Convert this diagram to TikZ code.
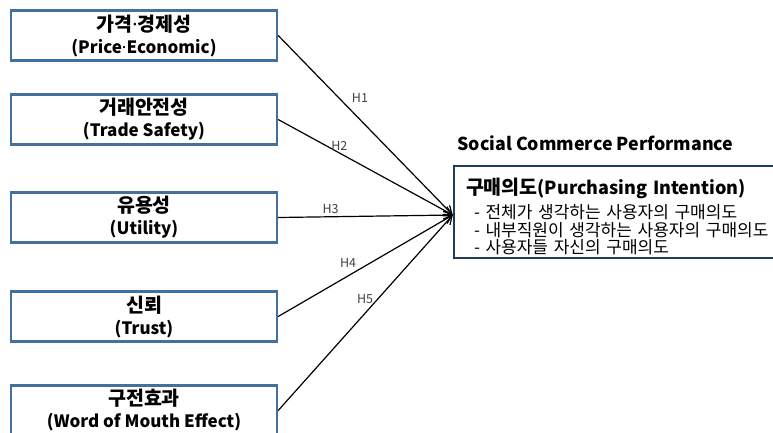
\documentclass[tikz,border=0pt]{standalone}
\usepackage{fontspec}
\setmainfont{Noto Sans CJK KR}
\newfontfamily\latinfont{Noto Sans}
\usetikzlibrary{arrows.meta,positioning}
\definecolor{factorblue}{HTML}{41719C}
\definecolor{resultnavy}{HTML}{203A60}
\newcommand{\mdot}{{\latinfont\bfseries\textperiodcentered}}
\newcommand{\kor}[1]{{\fontsize{19.5}{23}\selectfont #1}}

\begin{document}
\begin{tikzpicture}[%
x=1pt, y=-1pt,
>={Straight Barb[length=8pt, width=9pt]},
on grid,
factor/.style={draw=factorblue, line width=2.4pt, minimum width=266pt, minimum height=50pt,
  inner sep=0pt, align=center, font=\bfseries\fontsize{17}{22}\selectfont},
result/.style={draw=resultnavy, line width=2.4pt, text width=310pt, minimum height=88pt,
  inner xsep=12pt, align=left, font=\fontsize{17}{17.5}\selectfont},
hyp/.style={font=\fontsize{12.5}{14}\selectfont, text=black!75, inner sep=2pt},
link/.style={->, line width=1.2pt}
]
\useasboundingbox (0,0) rectangle (773,432);

\node[factor] (price) at (144,35.5) {\kor{가격\mdot 경제성}\\(Price\mdot Economic)};
\node[factor] (trade) [below=84pt of price] {\kor{거래안전성}\\(Trade Safety)};
\node[factor] (util) [below=98pt of trade] {\kor{유용성}\\(Utility)};
\node[factor] (trust) [below=99pt of util] {\kor{신뢰}\\(Trust)};
\node[factor] (wom) [below=94pt of trust] {\kor{구전효과}\\(Word of Mouth Effect)};

\node[result] (intent) at (621,212) {\rule{0pt}{25pt}{\bfseries\fontsize{19.5}{22}\selectfont 구매의도{\fontsize{18}{22}\selectfont(Purchasing Intention)}}\\[5pt]
  \hspace*{8pt}- 전체가 생각하는 사용자의 구매의도\\
  \hspace*{8pt}- 내부직원이 생각하는 사용자의 구매의도\\
  \hspace*{8pt}- 사용자들 자신의 구매의도};
\node[anchor=west, font=\bfseries\fontsize{17.8}{20}\selectfont] (perf)
  at ([xshift=1pt, yshift=21pt]intent.north west) {Social Commerce Performance};
\coordinate (tip) at ([yshift=-3pt]intent.west);

% hypotheses H1--H5
\path[link] (price.east) edge node[hyp, pos=0.35, right=10pt] {H1} (tip);
\path[link] (trade.east) edge node[hyp, pos=0.35, above] {H2} (tip);
\path[link] (util.east) edge node[hyp, pos=0.3, above] {H3} (tip);
\path[link] (trust.east) edge node[hyp, pos=0.4, above=6pt] {H4} (tip);
\path[link] (wom.east) edge node[hyp, pos=0.57, left=2pt] {H5} (tip);
\end{tikzpicture}
\end{document}
